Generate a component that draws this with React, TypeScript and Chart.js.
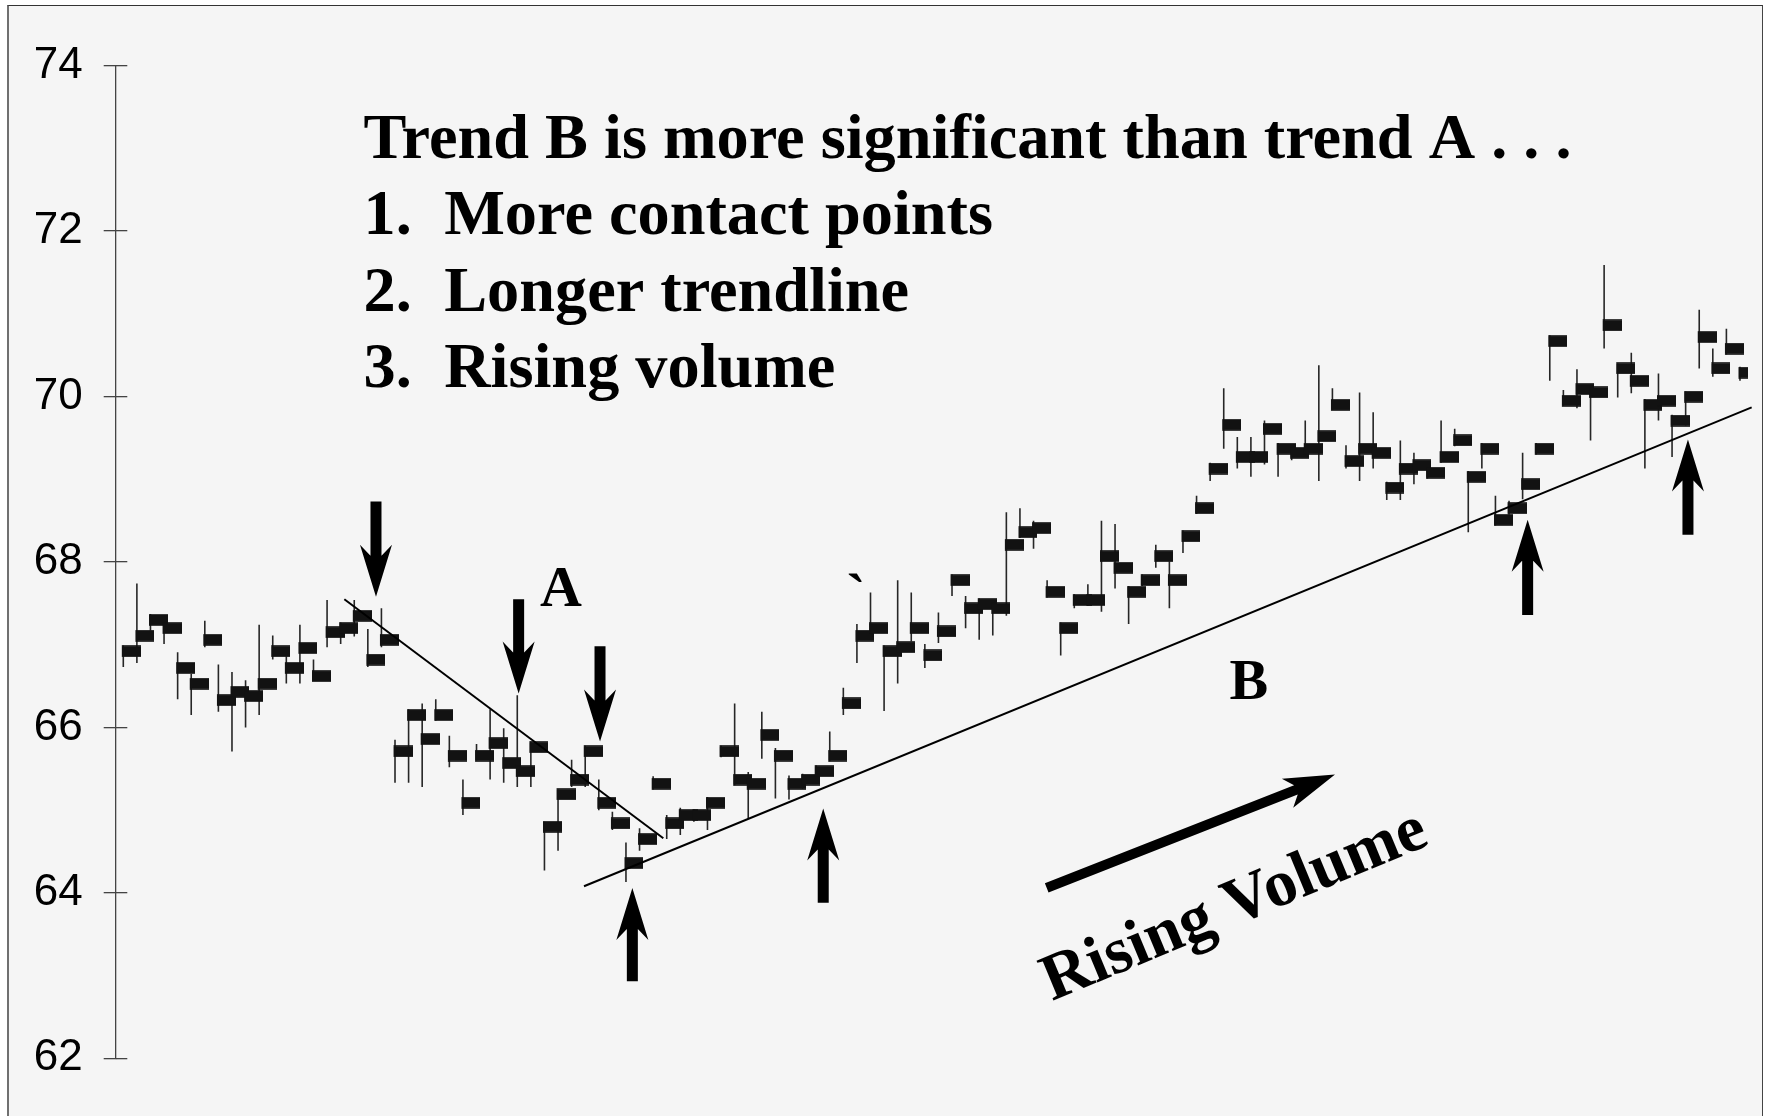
import React, { useEffect, useRef } from "react";
import { Chart, registerables } from "chart.js";

Chart.register(...registerables);

// ---- data (bar index 0..119) ----
const CLOSE = [
  66.92, 67.11, 67.30, 67.20, 66.72, 66.53, 67.06, 66.33, 66.43, 66.38,
  66.53, 66.92, 66.72, 66.96, 66.62, 67.15, 67.20, 67.35, 66.82, 67.06,
  65.71, 66.15, 65.86, 66.15, 65.66, 65.09, 65.66, 65.81, 65.57, 65.47,
  65.76, 64.80, 65.19, 65.37, 65.71, 65.09, 64.84, 64.36, 64.65, 65.32,
  64.84, 64.94, 64.94, 65.09, 65.71, 65.37, 65.32, 65.91, 65.66, 65.32,
  65.37, 65.47, 65.66, 66.29, 67.11, 67.20, 66.92, 66.97, 67.20, 66.87,
  67.16, 67.78, 67.44, 67.49, 67.44, 68.21, 68.36, 68.41, 67.64, 67.20,
  67.54, 67.54, 68.07, 67.93, 67.64, 67.78, 68.07, 67.78, 68.31, 68.65,
  69.13, 69.66, 69.27, 69.27, 69.61, 69.37, 69.32, 69.37, 69.52, 69.90,
  69.22, 69.37, 69.32, 68.90, 69.13, 69.17, 69.08, 69.27, 69.47, 69.03,
  69.37, 68.51, 68.65, 68.94, 69.37, 70.67, 69.95, 70.09, 70.05, 70.86,
  70.34, 70.19, 69.90, 69.95, 69.71, 70.00, 70.72, 70.34, 70.58, 70.29,
];

const HIGH = [
  66.99, 67.74, 67.37, 67.27, 66.91, 66.65, 67.29, 66.76, 66.67, 66.57,
  67.24, 67.11, 66.86, 67.24, 66.82, 67.54, 67.27, 67.54, 67.19, 67.44,
  65.85, 66.22, 66.29, 66.34, 65.90, 65.37, 65.80, 66.22, 65.99, 66.39,
  65.83, 64.86, 65.25, 65.61, 65.78, 65.37, 64.98, 64.61, 64.78, 65.41,
  64.94, 65.03, 65.01, 65.16, 65.78, 66.29, 65.46, 66.19, 65.75, 65.42,
  65.44, 65.54, 65.95, 66.48, 67.25, 67.63, 66.99, 67.78, 67.63, 67.01,
  67.39, 67.85, 67.59, 67.56, 67.51, 68.60, 68.65, 68.50, 67.78, 67.27,
  67.61, 67.73, 68.50, 68.46, 67.71, 67.85, 68.21, 68.01, 68.38, 68.80,
  69.20, 70.10, 69.51, 69.51, 69.71, 69.44, 69.39, 69.71, 70.38, 70.10,
  69.41, 70.05, 69.81, 68.97, 69.47, 69.32, 69.15, 69.71, 69.61, 69.10,
  69.44, 68.80, 68.74, 69.32, 69.44, 70.74, 70.08, 70.33, 70.11, 71.59,
  70.40, 70.53, 69.97, 70.28, 69.78, 70.06, 71.05, 70.58, 70.82, 70.36,
];

const LOW = [
  66.73, 66.78, 67.17, 67.01, 66.34, 66.15, 66.97, 66.19, 65.71, 66.00,
  66.15, 66.82, 66.53, 66.53, 66.56, 66.97, 67.01, 67.10, 66.73, 66.97,
  65.33, 65.33, 65.28, 66.08, 65.52, 64.94, 65.60, 65.37, 65.33, 65.28,
  65.28, 64.27, 64.51, 65.28, 65.28, 65.00, 64.76, 64.13, 64.51, 65.25,
  64.65, 64.70, 64.86, 64.76, 65.64, 65.30, 64.90, 65.62, 65.14, 65.13,
  65.26, 65.40, 65.59, 66.15, 66.78, 67.14, 66.20, 66.53, 67.04, 66.72,
  67.02, 67.59, 67.20, 67.06, 67.11, 67.35, 68.29, 68.16, 67.57, 66.87,
  67.44, 67.47, 67.40, 67.68, 67.25, 67.71, 67.93, 67.44, 68.11, 68.58,
  68.98, 69.37, 69.13, 69.03, 69.18, 69.03, 69.23, 69.30, 68.98, 69.84,
  69.13, 68.98, 69.13, 68.75, 68.75, 68.94, 69.01, 69.20, 69.40, 68.36,
  69.13, 68.44, 68.57, 68.76, 69.30, 70.19, 69.89, 69.86, 69.47, 70.58,
  69.99, 70.04, 69.13, 69.71, 69.27, 69.65, 70.34, 70.24, 70.51, 70.19,
];

const Y_TICKS = [62, 64, 66, 68, 70, 72, 74];

// trendlines (bar index, price)
const TREND_A = [
  { x: 16.27, y: 67.55 },
  { x: 39.75, y: 64.66 },
];
const TREND_B = [
  { x: 33.91, y: 64.08 },
  { x: 119.86, y: 69.87 },
];

// annotation text
const HEADER = "Trend B is more significant than trend A . . .";
const POINT_NUMS = ["1.", "2.", "3."];
const POINT_TEXTS = ["More contact points", "Longer trendline", "Rising volume"];
const HEADER_POS = { x: 17.68, y: 72.89 };
const POINT_NUM_X = 17.68;
const POINT_TEXT_X = 23.62;
const POINT_Y = [71.965, 71.04, 70.11];
const LABEL_A = { text: "A", x: 32.22, y: 67.47 };
const LABEL_B = { text: "B", x: 82.84, y: 66.34 };
const TICK_MARK = { text: "`", x: 53.93, y: 67.38 };
const RISING = { text: "Rising Volume", x: 82.3, y: 63.64, angle: -22.5 };

// arrows: x = bar index, tip / tail = price
const DOWN_ARROWS = [
  { x: 18.6, tip: 67.58, tail: 68.73 },
  { x: 29.1, tip: 66.41, tail: 67.55 },
  { x: 35.09, tip: 65.83, tail: 66.98 },
];
const UP_ARROWS = [
  { x: 37.47, tip: 64.06, tail: 62.93 },
  { x: 51.52, tip: 65.02, tail: 63.88 },
  { x: 103.37, tip: 68.51, tail: 67.36 },
  { x: 115.17, tip: 69.48, tail: 68.33 },
];
const VOLUME_ARROW = { tail: { x: 67.97, y: 64.06 }, tip: { x: 89.19, y: 65.43 } };

const AXIS_COLOR = "#444";
const SERIF = "'Liberation Serif', 'Times New Roman', serif";

function drawArrow(
  ctx: CanvasRenderingContext2D,
  x0: number, y0: number, x1: number, y1: number,
  L: number, W: number, notch: number, s: number
) {
  const dx = x1 - x0, dy = y1 - y0;
  const len = Math.hypot(dx, dy);
  const ux = dx / len, uy = dy / len;
  const nx = -uy, ny = ux;
  const bx = x1 - L * ux, by = y1 - L * uy;
  const jx = x1 - (L - notch) * ux, jy = y1 - (L - notch) * uy;
  ctx.beginPath();
  ctx.moveTo(x1, y1);
  ctx.lineTo(bx + W * nx, by + W * ny);
  ctx.lineTo(jx + s * nx, jy + s * ny);
  ctx.lineTo(x0 + s * nx, y0 + s * ny);
  ctx.lineTo(x0 - s * nx, y0 - s * ny);
  ctx.lineTo(jx - s * nx, jy - s * ny);
  ctx.lineTo(bx - W * nx, by - W * ny);
  ctx.closePath();
  ctx.fill();
}

const annotationPlugin = {
  id: "annotations",
  afterDatasetsDraw(chart: any) {
    const { ctx, chartArea } = chart;
    const xs = chart.scales.x;
    const ys = chart.scales.y;
    const px = (v: number) => xs.getPixelForValue(v);
    const py = (v: number) => ys.getPixelForValue(v);
    ctx.save();

    // inner halves of the axis ticks
    ctx.strokeStyle = AXIS_COLOR;
    ctx.lineWidth = 1.3;
    for (const v of Y_TICKS) {
      const yy = Math.round(py(v) - 0.65) + 0.65;
      ctx.beginPath();
      ctx.moveTo(chartArea.left, yy);
      ctx.lineTo(chartArea.left + 11.6, yy);
      ctx.stroke();
    }

    ctx.fillStyle = "#000";
    ctx.textBaseline = "alphabetic";

    // header + list
    ctx.font = `bold 64.3px ${SERIF}`;
    ctx.textAlign = "left";
    ctx.fillText(HEADER, px(HEADER_POS.x), py(HEADER_POS.y));
    POINT_NUMS.forEach((n, i) => {
      ctx.fillText(n, px(POINT_NUM_X), py(POINT_Y[i]));
      ctx.fillText(POINT_TEXTS[i], px(POINT_TEXT_X), py(POINT_Y[i]));
    });

    // A / B labels
    ctx.font = `bold 58px ${SERIF}`;
    ctx.textAlign = "center";
    for (const l of [LABEL_A, LABEL_B, TICK_MARK]) {
      ctx.fillText(l.text, px(l.x), py(l.y));
    }

    // Rising Volume
    ctx.save();
    ctx.translate(px(RISING.x), py(RISING.y));
    ctx.rotate((RISING.angle * Math.PI) / 180);
    ctx.font = `bold 66px ${SERIF}`;
    ctx.textAlign = "center";
    ctx.fillText(RISING.text, 0, 0);
    ctx.restore();

    // arrows
    for (const a of [...DOWN_ARROWS, ...UP_ARROWS]) {
      drawArrow(ctx, px(a.x), py(a.tail), px(a.x), py(a.tip), 52, 16, 11, 5.5);
    }
    drawArrow(
      ctx,
      px(VOLUME_ARROW.tail.x), py(VOLUME_ARROW.tail.y),
      px(VOLUME_ARROW.tip.x), py(VOLUME_ARROW.tip.y),
      51, 15.5, 9, 5
    );

    ctx.restore();
  },
};

export default function App() {
  const ref = useRef<HTMLCanvasElement | null>(null);

  useEffect(() => {
    if (!ref.current) return;

    // close marker: block extending to the right of the high-low line
    const blk = document.createElement("canvas");
    blk.width = 35;
    blk.height = 12;
    const bctx = blk.getContext("2d")!;
    bctx.fillStyle = "#121212";
    bctx.fillRect(16, 0.2, 19.2, 11.6);

    const chart = new Chart(ref.current, {
      type: "bar",
      data: {
        datasets: [
          {
            type: "line",
            label: "Trend A",
            data: TREND_A,
            borderColor: "#000",
            borderWidth: 2,
            pointRadius: 0,
            fill: false,
            tension: 0,
            order: 0,
            clip: false,
          } as any,
          {
            type: "line",
            label: "Trend B",
            data: TREND_B,
            borderColor: "#000",
            borderWidth: 2,
            pointRadius: 0,
            fill: false,
            tension: 0,
            order: 0,
            clip: false,
          } as any,
          {
            type: "line",
            label: "Close",
            data: CLOSE.map((c, i) => ({ x: i, y: c })),
            showLine: false,
            pointStyle: blk,
            pointRadius: 10,
            order: 1,
            clip: 0,
          } as any,
          {
            type: "bar",
            label: "High-Low",
            data: HIGH.map((h, i) => ({ x: i, y: [LOW[i], h] })),
            backgroundColor: "#262626",
            borderWidth: 0,
            barThickness: 1.6,
            inflateAmount: 0,
            order: 2,
            clip: 0,
          } as any,
        ],
      },
      options: {
        animation: false,
        responsive: false,
        devicePixelRatio: 1,
        events: [],
        layout: { padding: { top: 65.7, right: 21, bottom: 57.7, left: 0 } },
        plugins: {
          legend: { display: false },
          title: { display: false },
          tooltip: { enabled: false },
        },
        scales: {
          x: {
            type: "linear",
            display: false,
            min: -0.559,
            max: 119.59,
            offset: false,
            grid: { offset: false },
          },
          y: {
            type: "linear",
            min: 62,
            max: 74,
            beginAtZero: false,
            afterBuildTicks: (s: any) => {
              s.ticks = Y_TICKS.map((v) => ({ value: v }));
            },
            afterFit: (s: any) => {
              s.width = 115.7;
            },
            ticks: {
              color: "#000",
              padding: 21,
              font: { family: "'Liberation Sans', Arial, sans-serif", size: 44 },
            },
            grid: {
              drawOnChartArea: false,
              drawTicks: true,
              tickLength: 12,
              color: AXIS_COLOR,
              lineWidth: 1.3,
            },
            border: { display: true, color: AXIS_COLOR, width: 1.3 },
          },
        },
      } as any,
      plugins: [annotationPlugin],
    });

    return () => chart.destroy();
  }, []);

  return (
    <div>
      <div
        style={{
          position: "fixed",
          left: 7,
          top: 5,
          width: 1756,
          height: 1200,
          boxSizing: "border-box",
          background: "#f5f5f5",
          borderTop: "1px solid #333",
          borderRight: "1px solid #444",
          borderLeft: "2px solid #707070",
        }}
      />
      <canvas
        ref={ref}
        width={1769}
        height={1116}
        style={{ position: "fixed", left: 0, top: 0, width: 1769, height: 1116, display: "block" }}
      />
    </div>
  );
}
